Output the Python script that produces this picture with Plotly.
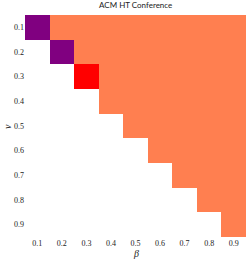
import plotly.graph_objects as go

beta = [0.1, 0.2, 0.3, 0.4, 0.5, 0.6, 0.7, 0.8, 0.9]
nu = [0.1, 0.2, 0.3, 0.4, 0.5, 0.6, 0.7, 0.8, 0.9]
tick_labels = ["0.1", "0.2", "0.3", "0.4", "0.5", "0.6", "0.7", "0.8", "0.9"]
# category codes: 0 = purple, 1 = coral, 2 = red, None = empty
z = [
    [0, 1, 1, 1, 1, 1, 1, 1, 1],
    [None, 0, 1, 1, 1, 1, 1, 1, 1],
    [None, None, 2, 1, 1, 1, 1, 1, 1],
    [None, None, None, 1, 1, 1, 1, 1, 1],
    [None, None, None, None, 1, 1, 1, 1, 1],
    [None, None, None, None, None, 1, 1, 1, 1],
    [None, None, None, None, None, None, 1, 1, 1],
    [None, None, None, None, None, None, None, 1, 1],
    [None, None, None, None, None, None, None, None, 1],
]

colorscale = [
    [0.0, "#800080"], [0.3333, "#800080"],
    [0.3333, "#FF7F50"], [0.6667, "#FF7F50"],
    [0.6667, "#FF0000"], [1.0, "#FF0000"],
]

fig = go.Figure(go.Heatmap(
    x=beta, y=nu, z=z, zmin=-0.5, zmax=2.5,
    colorscale=colorscale, showscale=False, xgap=0, ygap=0,
))

tick_font = dict(family="Liberation Serif, serif", size=8, color="#222")
lab_font = dict(family="Liberation Serif, serif", size=10, color="#222")
fig.update_layout(
    width=249, height=261,
    margin=dict(l=25, r=3, t=15, b=24, autoexpand=False),
    paper_bgcolor="white", plot_bgcolor="white",
    title=dict(text="ACM HT Conference", x=0.545, xanchor="center", y=0.99, yanchor="top",
               font=dict(family="Lato, sans-serif", size=8, color="#222")),
    xaxis=dict(tickvals=beta, ticktext=tick_labels, tickfont=tick_font, showgrid=False,
               zeroline=False, ticks="", ticklen=0, automargin=False,
               range=[0.05, 0.95]),
    yaxis=dict(tickvals=nu, ticktext=tick_labels, tickfont=tick_font, showgrid=False,
               zeroline=False, ticks="", ticklen=0, automargin=False, autorange=False,
               range=[0.95, 0.05]),
    annotations=[
        dict(text="<i>β</i>", xref="paper", yref="paper", x=0.5, y=-0.04, xanchor="center",
             yanchor="top", showarrow=False, font=lab_font),
        dict(text="<i>ν</i>", xref="paper", yref="paper", x=-0.082, y=0.5, xanchor="center",
             yanchor="middle", showarrow=False, textangle=-90, font=lab_font),
    ],
)
fig.write_html("out.html", config={"displayModeBar": False},
               post_script="document.body.style.margin='0';document.body.style.overflow='hidden';")
